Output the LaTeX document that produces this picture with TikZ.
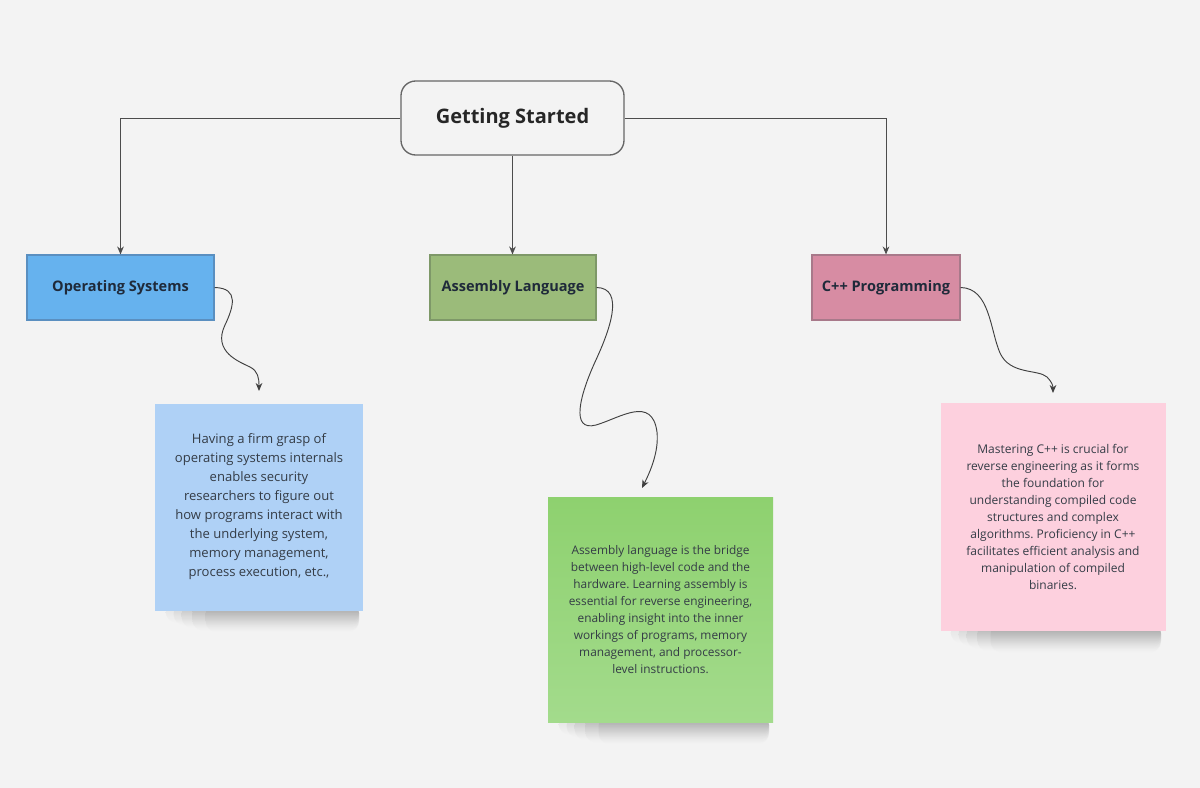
\documentclass[tikz,border=0pt]{standalone}
\usepackage{fontspec}
\setmainfont{Open Sans}
\usetikzlibrary{arrows.meta}
\frenchspacing

\definecolor{bgcol}{HTML}{F3F3F3}
\definecolor{titlecol}{HTML}{1F2A3A}
\definecolor{notetext}{HTML}{343C46}
\definecolor{oscol}{HTML}{66B2EE}
\definecolor{osline}{HTML}{5A8FC0}
\definecolor{asmcol}{HTML}{9BBB7A}
\definecolor{asmline}{HTML}{7E9868}
\definecolor{cppcol}{HTML}{D78CA3}
\definecolor{cppline}{HTML}{A8798A}
\definecolor{bluenote}{HTML}{AFD1F6}
\definecolor{greentop}{HTML}{8ED16F}
\definecolor{greenbot}{HTML}{A3DB8C}
\definecolor{pinknote}{HTML}{FDD0DE}

\tikzset{
  topic/.style={draw, line width=0.8pt, minimum height=48.75pt, inner sep=0pt,
    text=titlecol, font=\fontsize{10.9}{12}\selectfont\bfseries},
  note/.style={inner sep=0pt, align=center, text=notetext},
  link/.style={draw=black!70, line width=0.7pt, -{Stealth[length=6pt,width=5pt]}},
  wave/.style={draw=black!75, line width=0.7pt, -{Stealth[length=6pt,width=5pt]}}
}

\begin{document}
\begin{tikzpicture}[x=0.75pt, y=-0.75pt]
  \useasboundingbox[fill=bgcol] (0,0) rectangle (1200,788);

  % main topic
  \node (GS) at (512.5,118) [draw=black!60, line width=1pt, rounded corners=11pt,
    minimum width=167.25pt, minimum height=55.5pt, fill=bgcol, text=black!85,
    font=\fontsize{15}{18}\selectfont\bfseries] {Getting Started};

  % subtopics
  \node (OS) at (120.5,287.5) [topic, fill=oscol, draw=osline, minimum width=140.25pt] {Operating Systems};
  \node (AL) at (513,287.5) [topic, fill=asmcol, draw=asmline, minimum width=124.5pt] {Assembly Language};
  \node (CP) at (886,287.5) [topic, fill=cppcol, draw=cppline, minimum width=111pt] {C++ Programming};

  \path[link] (GS.west) -| (OS.north);
  \path[link] (GS.south) -- (GS.south |- AL.north);
  \path[link] (GS.east) -| (CP.north);

  % soft shadows under the notes (drawn first)
  \coordinate (OSN-sw) at (155,610.5);  \coordinate (OSN-se) at (363,610.5);
  \coordinate (ALN-sw) at (548,722.5);  \coordinate (ALN-se) at (773,722.5);
  \coordinate (CPN-sw) at (940,631);    \coordinate (CPN-se) at (1165,631);
  \foreach \n in {OSN,ALN,CPN}
    \foreach \dx/\h/\op in {8/9/0.12, 14/11/0.15, 20/13/0.18, 28/15/0.2, 38/16/0.2}
      \shade[top color=black!60!bgcol, bottom color=bgcol, opacity=\op, rounded corners=8pt]
        ([xshift=\dx pt, yshift=6pt]\n-sw) rectangle ([xshift=-3pt, yshift=-\h pt]\n-se);

  % sticky notes
  \node (OSN) at (259,507) [note, fill=bluenote, minimum width=156pt, minimum height=155.25pt,
    font=\fontsize{9.8}{14.25}\selectfont]
    {Having a firm grasp of\\operating systems internals\\enables security\\researchers to figure out\\how programs interact with\\the underlying system,\\memory management,\\process execution, etc.,};
  \node (ALN) at (660.5,610) [note, top color=greentop, bottom color=greenbot,
    minimum width=168.75pt, minimum height=168.75pt, font=\fontsize{8.9}{12.75}\selectfont]
    {Assembly language is the bridge\\between high-level code and the\\hardware. Learning assembly is\\essential for reverse engineering,\\enabling insight into the inner\\workings of programs, memory\\management, and processor-\\level instructions.};
  \node (CPN) at (1053,517) [note, fill=pinknote, minimum width=168.75pt, minimum height=171pt,
    font=\fontsize{9}{12.75}\selectfont]
    {Mastering C++ is crucial for\\reverse engineering as it forms\\the foundation for\\understanding compiled code\\structures and complex\\algorithms. Proficiency in C++\\facilitates efficient analysis and\\manipulation of compiled\\binaries.};

  % wavy pointers
  \coordinate (OSE) at (259,391);
  \coordinate (ALE) at (642,488);
  \coordinate (CPE) at (1053,393);
  \path[wave] (OS.east) .. controls (240,288) and (233,308) .. (225,325)
    .. controls (212,352) and (240,362) .. (250,367)
    .. controls (258,371) and (259,378) .. (OSE);
  \path[wave] (AL.east) .. controls (625,288) and (610,330) .. (595,362)
    .. controls (580,395) and (570,432) .. (596,425)
    .. controls (620,418) and (652,395) .. (657,432)
    .. controls (659,452) and (650,472) .. (ALE);
  \path[wave] (CP.east) .. controls (990,288) and (990,330) .. (1000,353)
    .. controls (1010,375) and (1038,369) .. (1047,377)
    .. controls (1052,382) and (1053,386) .. (CPE);
\end{tikzpicture}
\end{document}
